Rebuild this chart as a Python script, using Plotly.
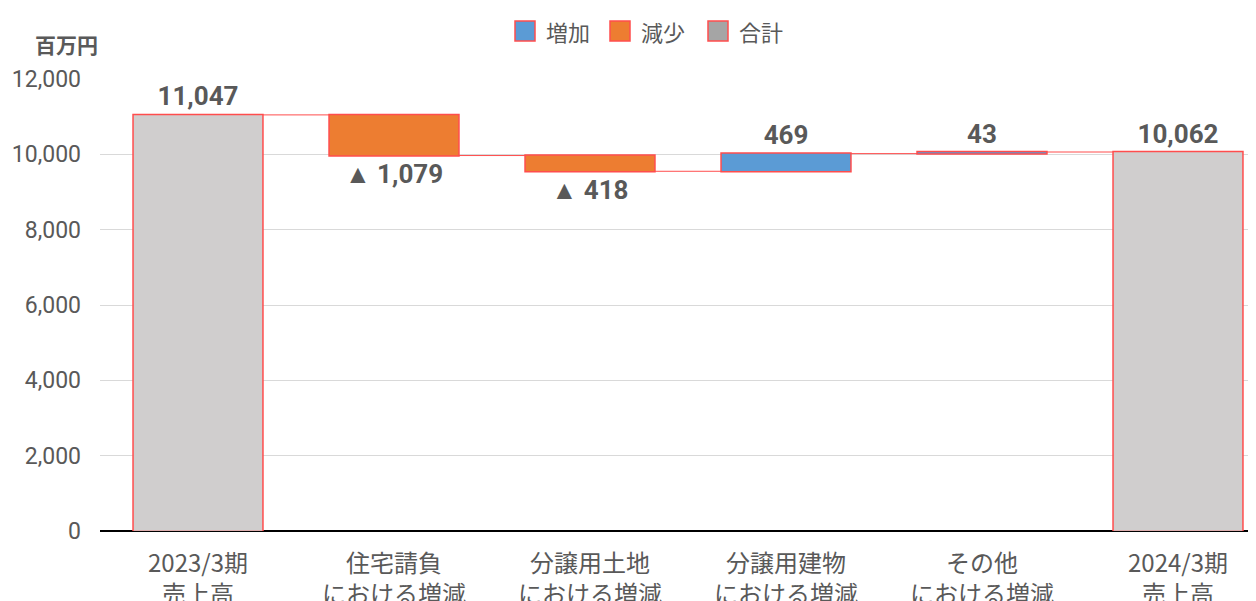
import plotly.graph_objects as go

categories = ["2023/3期<br>売上高", "住宅請負<br>における増減", "分譲用土地<br>における増減",
              "分譲用建物<br>における増減", "その他<br>における増減", "2024/3期<br>売上高"]
values = [11047, -1079, -418, 469, 43, 10062]
measures = ["absolute", "relative", "relative", "relative", "relative", "total"]
labels = ["11,047", "▲ 1,079", "▲ 418", "469", "43", "10,062"]
legend_names = ["増加", "減少", "合計"]
legend_colors = ["#5B9BD5", "#ED7D31", "#A5A5A5"]
y_ticks = [0, 2000, 4000, 6000, 8000, 10000, 12000]

RED = "#FF4D4D"
TXT = "#595959"

W, H = 1256, 601
L, R, T, B = 92, 0, 71, 78
PW, PH = W - L - R, H - T - B


def px_x(px):
    return (px - L) / PW


def px_y(py):
    return (H - B - py) / PH


fig = go.Figure()
fig.add_trace(go.Waterfall(
    x=categories, y=values, measure=measures,
    text=labels, textposition="outside",
    textfont=dict(family="Roboto", size=26, color=TXT, weight="bold"),
    increasing=dict(marker=dict(color="#5B9BD5", line=dict(color=RED, width=1.5))),
    decreasing=dict(marker=dict(color="#ED7D31", line=dict(color=RED, width=1.5))),
    totals=dict(marker=dict(color="#D0CECE", line=dict(color=RED, width=1.5))),
    connector=dict(line=dict(color=RED, width=1)),
    width=0.663, showlegend=False, cliponaxis=False,
))

shapes = []
annotations = [dict(text="百万円", xref="paper", yref="paper", x=px_x(58), y=px_y(36),
                    xanchor="center", yanchor="middle", showarrow=False,
                    font=dict(size=21, color=TXT, family="Noto Sans CJK JP", weight="bold"))]
legend_x = [507, 602, 700]
for n, c, lx in zip(legend_names, legend_colors, legend_x):
    shapes.append(dict(type="rect", xref="paper", yref="paper",
                       x0=px_x(lx), x1=px_x(lx + 20), y0=px_y(33), y1=px_y(13),
                       fillcolor=c, line=dict(color=RED, width=1.5)))
    annotations.append(dict(text=n, xref="paper", yref="paper", x=px_x(lx + 29), y=px_y(23),
                            xanchor="left", yanchor="middle", showarrow=False,
                            font=dict(size=22, color=TXT, family="Noto Sans CJK JP")))

fig.update_layout(
    width=W, height=H,
    margin=dict(l=L, r=R, t=T, b=B),
    paper_bgcolor="white", plot_bgcolor="white",
    font=dict(family="Roboto, Noto Sans CJK JP", color=TXT),
    showlegend=False,
    shapes=shapes, annotations=annotations,
)
fig.update_xaxes(range=[-0.5, -0.5 + PW / 196], showgrid=False, showline=False,
                 tickfont=dict(size=24, color=TXT, family="Noto Sans CJK JP"),
                 automargin=False, ticks="outside", ticklen=11, tickcolor="rgba(0,0,0,0)")
fig.update_yaxes(range=[0, 12000], tickvals=y_ticks, tickformat=",d",
                 gridcolor="#D9D9D9", gridwidth=1,
                 zeroline=True, zerolinecolor="#000000", zerolinewidth=2,
                 tickfont=dict(size=23, color=TXT, family="Roboto"),
                 ticklabelstandoff=18, automargin=False)

fig.write_html("out.html")
